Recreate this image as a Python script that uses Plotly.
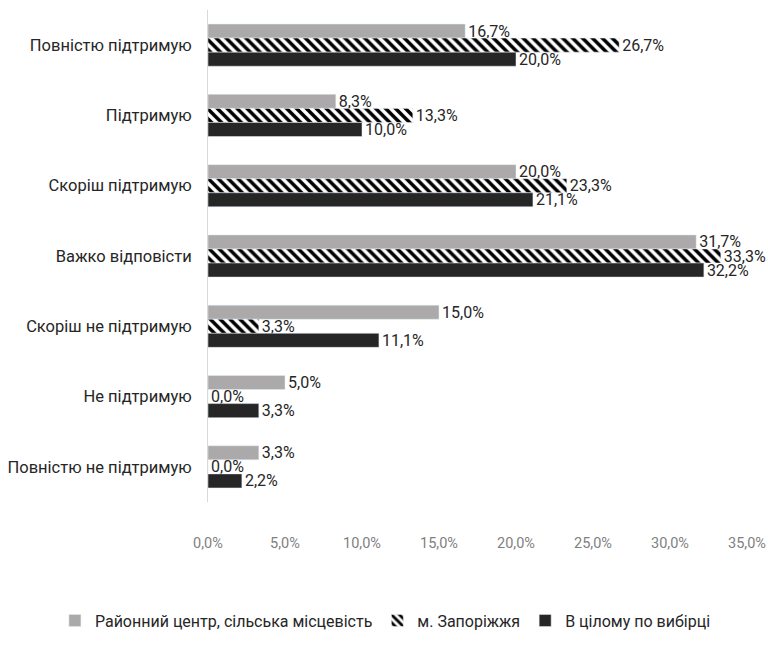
import plotly.graph_objects as go

categories = ["Повністю підтримую", "Підтримую", "Скоріш підтримую", "Важко відповісти",
              "Скоріш не підтримую", "Не підтримую", "Повністю не підтримую"]
rural = [16.7, 8.3, 20.0, 31.7, 15.0, 5.0, 3.3]
zaporizhzhia = [26.7, 13.3, 23.3, 33.3, 3.3, 0.0, 0.0]
total = [20.0, 10.0, 21.1, 32.2, 11.1, 3.3, 2.2]
series_names = ["Районний центр, сільська місцевість", "м. Запоріжжя", "В цілому по вибірці"]
tick_vals = [0, 5, 10, 15, 20, 25, 30, 35]
tick_text = ["0,0%", "5,0%", "10,0%", "15,0%", "20,0%", "25,0%", "30,0%", "35,0%"]

FONT = "Roboto, Liberation Sans, sans-serif"

def lbl(vals):
    return [f"{v:.1f}%".replace(".", ",") for v in vals]

fig = go.Figure()
fig.add_trace(go.Bar(y=categories, x=rural, name=series_names[0], orientation="h",
                     marker=dict(color="#ABA9A9"), text=lbl(rural)))
fig.add_trace(go.Bar(y=categories, x=zaporizhzhia, name=series_names[1], orientation="h",
                     marker=dict(color="white",
                                 pattern=dict(shape="\\", fgcolor="black", bgcolor="white",
                                              size=7, solidity=0.5, fillmode="replace")),
                     text=lbl(zaporizhzhia)))
fig.add_trace(go.Bar(y=categories, x=total, name=series_names[2], orientation="h",
                     marker=dict(color="#262626"), text=lbl(total)))

fig.update_traces(textposition="outside", cliponaxis=False, constraintext="none",
                  textfont=dict(family=FONT, size=16, color="#262626"))

fig.update_layout(
    width=768, height=648,
    paper_bgcolor="white", plot_bgcolor="white",
    barmode="group", bargap=0.4, bargroupgap=0,
    margin=dict(l=208, r=21, t=10, b=125),
    font=dict(family=FONT, size=16, color="#262626"),
    showlegend=True,
    legend=dict(orientation="h", x=-0.284, xanchor="left", y=-0.241, yanchor="middle",
                font=dict(family=FONT, size=16, color="#262626"), traceorder="normal",
                itemwidth=30),
    xaxis=dict(range=[0, 35], tickvals=tick_vals, ticktext=tick_text, showgrid=False,
               zeroline=False, showline=False, automargin=False,
               tickfont=dict(family=FONT, size=14.5, color="#7F7F7F"),
               ticks="", ticklabelstandoff=30),
    yaxis=dict(autorange="reversed", showline=True, linecolor="#D9D9D9", linewidth=1,
               automargin=False, ticks="",
               tickfont=dict(family=FONT, size=16.5, color="#262626"), ticklabelstandoff=12),
)
fig.write_html("out.html", config={"displayModeBar": False},
               post_script="document.body.style.margin='0';document.documentElement.style.overflow='hidden';")
